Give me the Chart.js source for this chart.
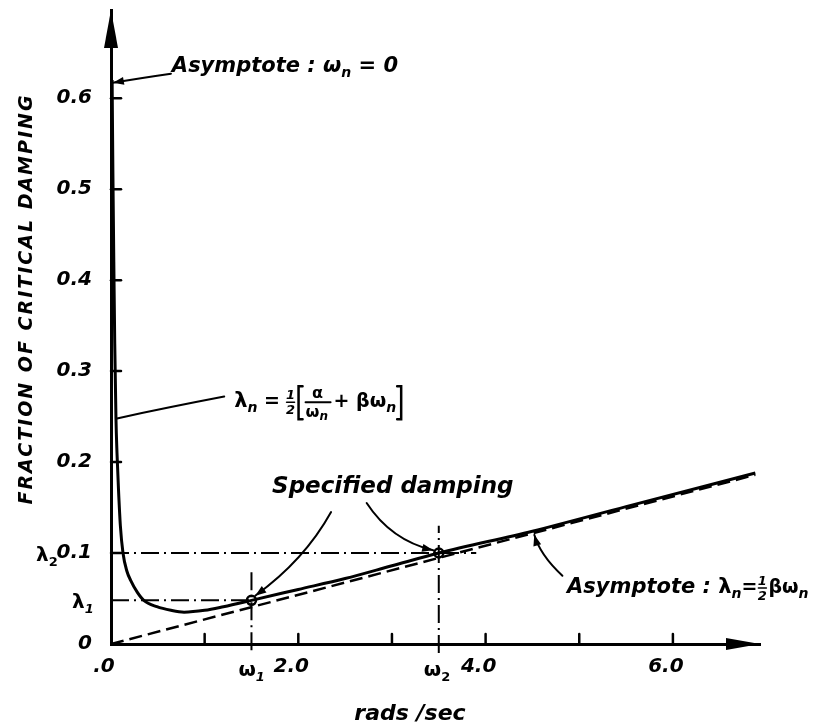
<!DOCTYPE html>
<html>
<head>
<meta charset="utf-8">
<script src="https://cdn.jsdelivr.net/npm/chart.js@4.4.1/dist/chart.umd.min.js"></script>
<style>
    html, body { margin: 0; padding: 0; background: #fff; }
    #contenedor { position: relative; width: 822px; height: 727px; }
</style>
</head>
<body>
<div id="contenedor"><canvas id="graficoAmortiguamiento"></canvas></div>
<script>
// Curva λn = 1/2 (α/ωn + βωn)
const curveOmega  = [0.012, 0.02, 0.03, 0.04, 0.053, 0.064, 0.08, 0.1, 0.128, 0.17, 0.21, 0.28, 0.35, 0.49, 0.64, 0.78, 1.0, 1.2, 1.5, 2.0, 2.5, 3.0, 3.5, 4.5, 5.5, 6.88];
const curveLambda = [0.62, 0.52, 0.42, 0.33, 0.248, 0.21, 0.17, 0.13, 0.1, 0.08, 0.07, 0.057, 0.048, 0.041, 0.037, 0.035, 0.037, 0.041, 0.048, 0.06, 0.072, 0.086, 0.1, 0.124, 0.151, 0.188];

// Asíntota λn = 1/2 β ωn
const asymptoteOmega  = [0, 6.88];
const asymptoteLambda = [0, 0.186];

// Amortiguamiento especificado (ω1, λ1) y (ω2, λ2)
const specifiedOmega  = [1.5, 3.5];
const specifiedLambda = [0.048, 0.1];

// Líneas de referencia (trazo y punto)
const lambda1LineOmega = [0, 1.5];
const lambda2LineOmega = [0, 3.9];
const omega1LineLambda = [-0.007, 0.079];
const omega2LineLambda = [-0.01, 0.13];

// Ejes
const yTickValues = [0, 0.1, 0.2, 0.3, 0.4, 0.5, 0.6];
const yTickLabels = ['0', '0.1', '0.2', '0.3', '0.4', '0.5', '0.6'];
const xTickValues = [0, 1, 2, 3, 4, 5, 6];
const xTickLabels = ['.0', '', '2.0', '', '4.0', '', '6.0'];

const FUENTE = '"DejaVu Sans", sans-serif';
const TRAZO_PUNTO = [18, 5, 2, 5];

const puntos = (xs, ys) => xs.map((v, i) => ({ x: v, y: ys[i] }));

function escribir(ctx, partes, x, y) {
    // partes: [texto, fuente, desplazamiento vertical]
    let cx = x;
    for (const [t, f, dy] of partes) {
        ctx.font = f;
        ctx.fillText(t, cx, y + (dy || 0));
        cx += ctx.measureText(t).width;
    }
    return cx - x;
}

function flecha(ctx, p0, c, p1, punta) {
    ctx.beginPath();
    ctx.moveTo(p0[0], p0[1]);
    ctx.quadraticCurveTo(c[0], c[1], p1[0], p1[1]);
    ctx.stroke();
    if (!punta) return;
    const ang = Math.atan2(p1[1] - c[1], p1[0] - c[0]);
    const l = 11, w = 4;
    ctx.beginPath();
    ctx.moveTo(p1[0], p1[1]);
    ctx.lineTo(p1[0] - l * Math.cos(ang) + w * Math.sin(ang), p1[1] - l * Math.sin(ang) - w * Math.cos(ang));
    ctx.lineTo(p1[0] - l * Math.cos(ang) - w * Math.sin(ang), p1[1] - l * Math.sin(ang) + w * Math.cos(ang));
    ctx.closePath();
    ctx.fill();
}

const anotaciones = {
    id: 'anotaciones',
    afterDraw(chart) {
        const { ctx, chartArea: a, scales: { x, y } } = chart;
        const P = (w, l) => [x.getPixelForValue(w), y.getPixelForValue(l)];
        const T = (s, px) => (s ? s + ' ' : '') + px + 'px ' + FUENTE;
        ctx.save();
        ctx.fillStyle = '#000';
        ctx.strokeStyle = '#000';
        ctx.lineCap = 'round';

        // Puntas de flecha de los ejes
        ctx.beginPath();
        ctx.moveTo(a.left, a.top);
        ctx.lineTo(a.left - 7, a.top + 38);
        ctx.lineTo(a.left + 7, a.top + 38);
        ctx.closePath();
        ctx.fill();
        ctx.beginPath();
        ctx.moveTo(a.right, a.bottom);
        ctx.lineTo(a.right - 34, a.bottom - 6);
        ctx.lineTo(a.right - 34, a.bottom + 6);
        ctx.closePath();
        ctx.fill();

        // Marcas hacia dentro
        ctx.lineWidth = 2.5;
        yTickValues.slice(1).forEach(v => {
            const py = y.getPixelForValue(v);
            ctx.beginPath(); ctx.moveTo(a.left, py); ctx.lineTo(a.left + 10, py); ctx.stroke();
        });
        xTickValues.slice(1).forEach(v => {
            const px = x.getPixelForValue(v);
            ctx.beginPath(); ctx.moveTo(px, a.bottom); ctx.lineTo(px, a.bottom - 10); ctx.stroke();
        });

        ctx.textBaseline = 'alphabetic';
        ctx.textAlign = 'left';

        // Títulos de los ejes
        ctx.save();
        ctx.translate(32, 299);
        ctx.rotate(-Math.PI / 2);
        ctx.textAlign = 'center';
        ctx.font = T('italic 600', 19);
        ctx.letterSpacing = '2px';
        ctx.fillText('FRACTION OF CRITICAL DAMPING', 0, 0);
        ctx.restore();
        ctx.textAlign = 'center';
        ctx.font = T('italic bold', 22);
        ctx.fillText('rads /sec', 410, 720);
        ctx.textAlign = 'left';

        // λ1, λ2 en el eje y
        let p = P(0, specifiedLambda[1]);
        escribir(ctx, [['λ', T('bold', 20), 0], ['2', T('bold', 13), 5]], 36, p[1] + 8);
        p = P(0, specifiedLambda[0]);
        escribir(ctx, [['λ', T('bold', 20), 0], ['1', T('italic bold', 13), 5]], 72, p[1] + 8);

        // ω1, ω2 en el eje x
        p = P(specifiedOmega[0], 0);
        escribir(ctx, [['ω', T('bold', 20), 0], ['1', T('italic bold', 13), 5]], p[0] - 13, a.bottom + 32);
        p = P(specifiedOmega[1], 0);
        escribir(ctx, [['ω', T('bold', 20), 0], ['2', T('bold', 13), 5]], p[0] - 15, a.bottom + 32);

        // Asíntota ωn = 0
        ctx.lineWidth = 2;
        p = P(0.65, 0.638);
        escribir(ctx, [['Asymptote : ω', T('italic bold', 21), 0], ['n', T('italic bold', 14), 5], [' = 0', T('italic bold', 21), 0]], p[0], p[1] + 8);
        flecha(ctx, P(0.64, 0.627), P(0.3, 0.622), P(0.02, 0.617), true);

        // Fórmula λn
        p = P(1.315, 0.268);
        let cx = p[0], cy = p[1] + 7;
        cx += escribir(ctx, [['λ', T('bold', 21), 0], ['n', T('italic bold', 14), 5], [' = ', T('bold', 19), 0]], cx, cy);
        ctx.textAlign = 'center';
        ctx.font = T('italic bold', 13);
        ctx.fillText('1', cx + 4, cy - 8);
        ctx.fillText('2', cx + 4, cy + 7);
        ctx.lineWidth = 1.5;
        ctx.beginPath(); ctx.moveTo(cx, cy - 5); ctx.lineTo(cx + 8, cy - 5); ctx.stroke();
        cx += 10;
        // corchete izquierdo
        ctx.lineWidth = 2.5;
        ctx.beginPath(); ctx.moveTo(cx + 6, cy - 21); ctx.lineTo(cx + 2, cy - 21); ctx.lineTo(cx + 2, cy + 12); ctx.lineTo(cx + 6, cy + 12); ctx.stroke();
        cx += 8;
        ctx.font = T('bold', 16);
        ctx.fillText('α', cx + 13, cy - 9);
        ctx.lineWidth = 2;
        ctx.beginPath(); ctx.moveTo(cx + 1, cy - 5); ctx.lineTo(cx + 26, cy - 5); ctx.stroke();
        ctx.textAlign = 'left';
        escribir(ctx, [['ω', T('bold', 16), 0], ['n', T('italic bold', 12), 3]], cx + 1, cy + 10);
        cx += 29;
        cx += escribir(ctx, [['+ βω', T('bold', 19), 0], ['n', T('italic bold', 14), 5]], cx, cy);
        ctx.lineWidth = 2.5;
        ctx.beginPath(); ctx.moveTo(cx + 1, cy - 21); ctx.lineTo(cx + 5, cy - 21); ctx.lineTo(cx + 5, cy + 12); ctx.lineTo(cx + 1, cy + 12); ctx.stroke();
        ctx.lineWidth = 2;
        flecha(ctx, P(1.209, 0.272), P(0.6, 0.26), P(0.064, 0.248), false);

        // Amortiguamiento especificado
        p = P(1.72, 0.175);
        ctx.font = T('italic bold', 23);
        ctx.fillText('Specified damping', p[0], p[1] + 8);
        flecha(ctx, P(2.35, 0.145), P(2.065, 0.092), P(1.54, 0.053), true);
        flecha(ctx, P(2.73, 0.155), P(2.99, 0.114), P(3.44, 0.103), true);

        // Asíntota λn = 1/2 β ωn
        p = P(4.87, 0.065);
        cx = p[0]; cy = p[1] + 8;
        cx += escribir(ctx, [['Asymptote : ', T('italic bold', 21), 0], ['λ', T('bold', 21), 0], ['n', T('italic bold', 14), 5], ['=', T('bold', 19), 0]], cx, cy);
        ctx.textAlign = 'center';
        ctx.font = T('italic bold', 13);
        ctx.fillText('1', cx + 5, cy - 8);
        ctx.fillText('2', cx + 5, cy + 7);
        ctx.lineWidth = 1.5;
        ctx.beginPath(); ctx.moveTo(cx + 1, cy - 5); ctx.lineTo(cx + 9, cy - 5); ctx.stroke();
        ctx.textAlign = 'left';
        escribir(ctx, [['βω', T('bold', 19), 0], ['n', T('italic bold', 14), 5]], cx + 11, cy);
        ctx.lineWidth = 2;
        flecha(ctx, P(4.82, 0.075), P(4.58, 0.098), P(4.52, 0.12), true);

        ctx.restore();
    }
};

const lineaBase = { showLine: true, pointRadius: 0, fill: false, borderColor: '#000' };
const sinRelleno = scale => { scale.paddingTop = 0; scale.paddingBottom = 0; scale.paddingLeft = 0; scale.paddingRight = 0; };

new Chart(document.getElementById('graficoAmortiguamiento'), {
    type: 'scatter',
    data: {
        datasets: [
            { ...lineaBase, data: puntos(asymptoteOmega, asymptoteLambda), borderWidth: 2.5, borderDash: [13, 6] },
            { ...lineaBase, data: puntos(lambda2LineOmega, [specifiedLambda[1], specifiedLambda[1]]), borderWidth: 2, borderDash: TRAZO_PUNTO },
            { ...lineaBase, data: puntos(lambda1LineOmega, [specifiedLambda[0], specifiedLambda[0]]), borderWidth: 2, borderDash: TRAZO_PUNTO },
            { ...lineaBase, data: puntos([specifiedOmega[0], specifiedOmega[0]], omega1LineLambda), borderWidth: 2, borderDash: TRAZO_PUNTO, clip: false },
            { ...lineaBase, data: puntos([specifiedOmega[1], specifiedOmega[1]], omega2LineLambda), borderWidth: 2, borderDash: TRAZO_PUNTO, clip: false },
            { ...lineaBase, data: puntos(curveOmega, curveLambda), borderWidth: 3, cubicInterpolationMode: 'monotone', clip: false },
            { data: puntos(specifiedOmega, specifiedLambda), showLine: false, pointRadius: 4.5, pointBorderWidth: 2.5, pointBackgroundColor: '#fff', pointBorderColor: '#000' }
        ]
    },
    options: {
        responsive: true,
        maintainAspectRatio: false,
        animation: false,
        layout: { padding: { top: 10, right: 62, left: 0, bottom: 0 } },
        plugins: { legend: { display: false }, tooltip: { enabled: false } },
        scales: {
            x: {
                type: 'linear',
                min: 0,
                max: 6.93,
                afterFit: scale => { scale.height = 83; sinRelleno(scale); },
                afterBuildTicks: scale => { scale.ticks = xTickValues.map(v => ({ value: v })); },
                grid: { display: false, drawTicks: false },
                border: { display: true, color: '#000', width: 3 },
                ticks: {
                    color: '#000',
                    padding: 11,
                    labelOffset: -7,
                    maxRotation: 0,
                    autoSkip: false,
                    font: { family: FUENTE, size: 20, style: 'italic', weight: 'bold' },
                    callback: (v) => xTickLabels[xTickValues.indexOf(v)] ?? ''
                }
            },
            y: {
                type: 'linear',
                min: 0,
                max: 0.697,
                afterFit: scale => { scale.width = 111; sinRelleno(scale); },
                afterBuildTicks: scale => { scale.ticks = yTickValues.map(v => ({ value: v })); },
                grid: { display: false, drawTicks: false },
                border: { display: true, color: '#000', width: 3 },
                ticks: {
                    color: '#000',
                    padding: 19,
                    autoSkip: false,
                    font: { family: FUENTE, size: 20, style: 'italic', weight: 'bold' },
                    callback: (v) => yTickLabels[yTickValues.indexOf(v)] ?? ''
                }
            }
        }
    },
    plugins: [anotaciones]
});
</script>
</body>
</html>
